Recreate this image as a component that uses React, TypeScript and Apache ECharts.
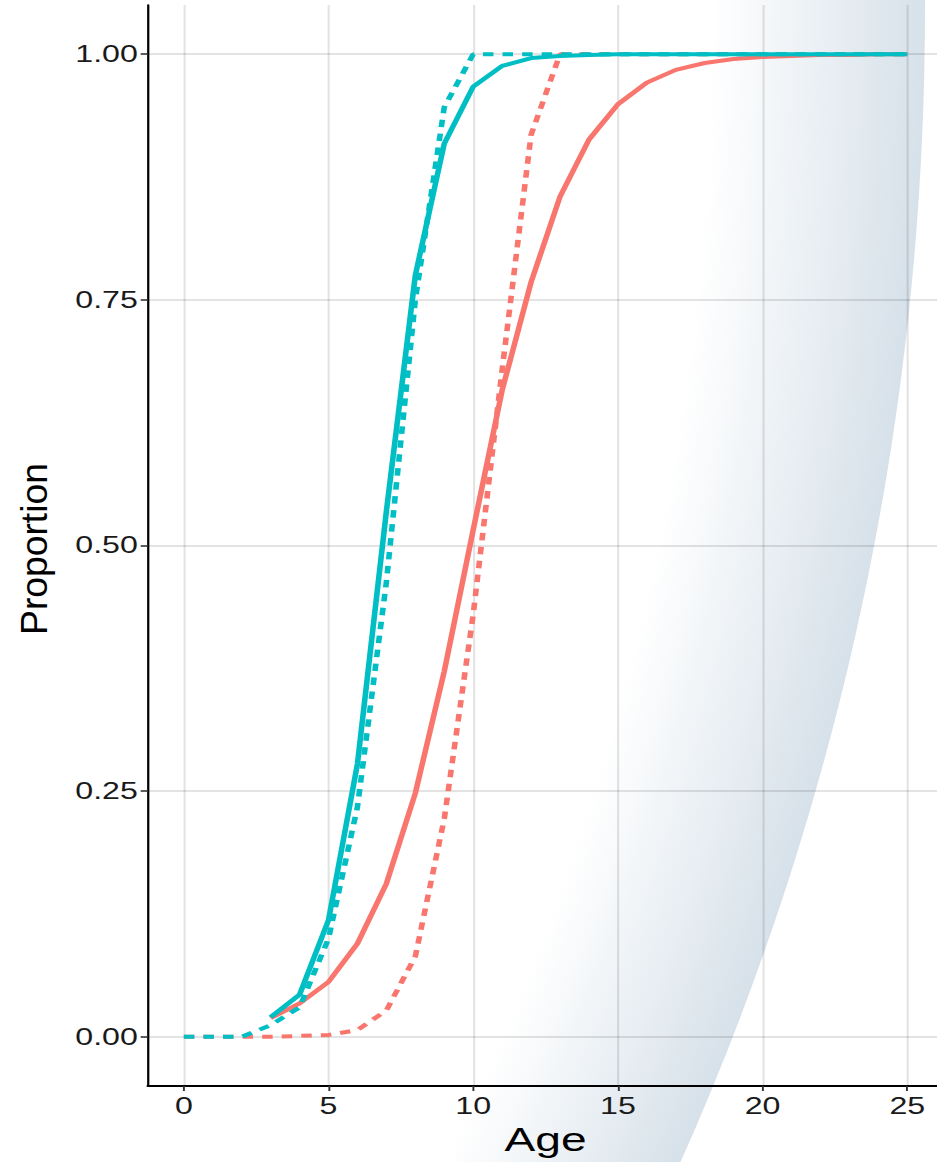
import React, { useEffect, useRef } from "react";
import * as echarts from "echarts";

// ---- data ----
const ages = [0, 1, 2, 3, 4, 5, 6, 7, 8, 9, 10, 11, 12, 13, 14, 15, 16, 17, 18, 19, 20, 21, 22, 23, 24, 25];
const solidAges = [3, 4, 5, 6, 7, 8, 9, 10, 11, 12, 13, 14, 15, 16, 17, 18, 19, 20, 21, 22, 23, 24, 25];

const redSolid = [0.019, 0.034, 0.056, 0.095, 0.156, 0.248, 0.372, 0.516, 0.658, 0.768, 0.855, 0.913, 0.949, 0.971, 0.984, 0.991, 0.995, 0.997, 0.998, 0.999, 0.999, 1.0, 1.0];
const redDashed = [0, 0, 0, 0, 0.001, 0.002, 0.007, 0.027, 0.082, 0.222, 0.43, 0.679, 0.918, 1.0, 1.0, 1.0, 1.0, 1.0, 1.0, 1.0, 1.0, 1.0, 1.0, 1.0, 1.0, 1.0];
const tealSolid = [0.02, 0.043, 0.119, 0.278, 0.535, 0.775, 0.909, 0.967, 0.988, 0.996, 0.998, 0.999, 1.0, 1.0, 1.0, 1.0, 1.0, 1.0, 1.0, 1.0, 1.0, 1.0, 1.0];
const tealDashed = [0, 0, 0, 0.012, 0.03, 0.1, 0.234, 0.463, 0.75, 0.946, 1.0, 1.0, 1.0, 1.0, 1.0, 1.0, 1.0, 1.0, 1.0, 1.0, 1.0, 1.0, 1.0, 1.0, 1.0, 1.0];

const xTicks = [0, 5, 10, 15, 20, 25];
const yTicks = [0, 0.25, 0.5, 0.75, 1.0];
const yTickLabels = ["0.00", "0.25", "0.50", "0.75", "1.00"];
const xTitle = "Age";
const yTitle = "Proportion";

const RED = "#F8766D";
const TEAL = "#00BFC4";
const FONT = "'Liberation Sans', Arial, Helvetica, sans-serif";

const OUT_W = 937;
const OUT_H = 1162;
const S = 937 / 670;
const IN_W = 680;

const pairs = (xs: number[], ys: number[]) => xs.map((x, i) => [x, ys[i]]);

export default function App() {
  const ref = useRef<HTMLDivElement>(null);
  useEffect(() => {
    if (!ref.current) return;
    const chart = echarts.init(ref.current, null, { renderer: "svg" });
    const shade = "188,205,219";
    const option: any = {
      animation: false,
      backgroundColor: "#ffffff",
      grid: { left: 105.6, top: 5, width: 569, height: 1081, containLabel: false },
      xAxis: {
        type: "value",
        min: -1.25,
        max: 26.25,
        name: xTitle,
        nameLocation: "middle",
        nameGap: 34,
        nameTextStyle: { color: "#000", fontSize: 33, fontFamily: FONT },
        axisLine: { show: true, onZero: false, lineStyle: { color: "#000", width: 1.8 } },
        axisTick: { show: true, length: 5, lineStyle: { color: "#333", width: 1.4 }, customValues: xTicks },
        axisLabel: { color: "#1a1a1a", fontSize: 23, fontFamily: FONT, margin: 9, customValues: xTicks },
        splitLine: { show: true, lineStyle: { color: "rgba(0,0,0,0.11)", width: 1.5 } },
      },
      yAxis: {
        type: "value",
        min: -0.05,
        max: 1.05,
        axisLine: { show: true, onZero: false, lineStyle: { color: "#000", width: 1.6 } },
        axisTick: { show: true, length: 5, lineStyle: { color: "#333", width: 1.6 }, customValues: yTicks },
        axisLabel: {
          color: "#1a1a1a",
          fontSize: 23,
          fontFamily: FONT,
          margin: 7,
          customValues: yTicks,
          formatter: (v: number) => {
            const i = yTicks.findIndex((t) => Math.abs(t - v) < 1e-9);
            return i >= 0 ? yTickLabels[i] : "";
          },
        },
        splitLine: { show: true, lineStyle: { color: "rgba(0,0,0,0.11)", width: 2 } },
      },
      graphic: [
        {
          type: "ellipse",
          z: -10,
          silent: true,
          shape: { cx: -1913 / S, cy: 8, rx: 2838 / S, ry: 2838 },
          style: {
            fill: {
              type: "radial",
              x: 0.5,
              y: 0.5,
              r: 0.5,
              colorStops: [
                { offset: 0, color: `rgba(${shade},0)` },
                { offset: 0.925, color: `rgba(${shade},0)` },
                { offset: 1, color: `rgba(${shade},0.6)` },
              ],
            },
          },
        },
        {
          type: "text",
          x: 33.5 / S,
          y: 549,
          rotation: Math.PI / 2,
          scaleX: 1.38,
          silent: true,
          style: {
            text: yTitle,
            fill: "#000",
            font: `27px ${FONT}`,
            textAlign: "center",
            textVerticalAlign: "middle",
          },
        },
      ],
      series: [
        {
          type: "line",
          name: "red solid",
          data: pairs(solidAges, redSolid),
          showSymbol: false,
          symbol: "none",
          lineStyle: { color: RED, width: 4 },
          z: 2,
        },
        {
          type: "line",
          name: "red dashed",
          data: pairs(ages, redDashed),
          showSymbol: false,
          symbol: "none",
          lineStyle: { color: RED, width: 4, type: [7.5, 6.5], cap: "butt" },
          z: 3,
        },
        {
          type: "line",
          name: "teal solid",
          data: pairs(solidAges, tealSolid),
          showSymbol: false,
          symbol: "none",
          lineStyle: { color: TEAL, width: 4 },
          z: 4,
        },
        {
          type: "line",
          name: "teal dashed",
          data: pairs(ages, tealDashed),
          showSymbol: false,
          symbol: "none",
          lineStyle: { color: TEAL, width: 4, type: [7.5, 6.5], cap: "butt" },
          z: 5,
        },
      ],
    };
    chart.setOption(option);
    return () => chart.dispose();
  }, []);

  return (
    <div
      style={{
        position: "fixed",
        left: 0,
        top: 0,
        width: OUT_W,
        height: OUT_H,
        overflow: "hidden",
        background: "#fff",
      }}
    >
      <div
        ref={ref}
        style={{
          width: IN_W,
          height: OUT_H,
          transform: `scaleX(${S})`,
          transformOrigin: "0 0",
        }}
      />
    </div>
  );
}
